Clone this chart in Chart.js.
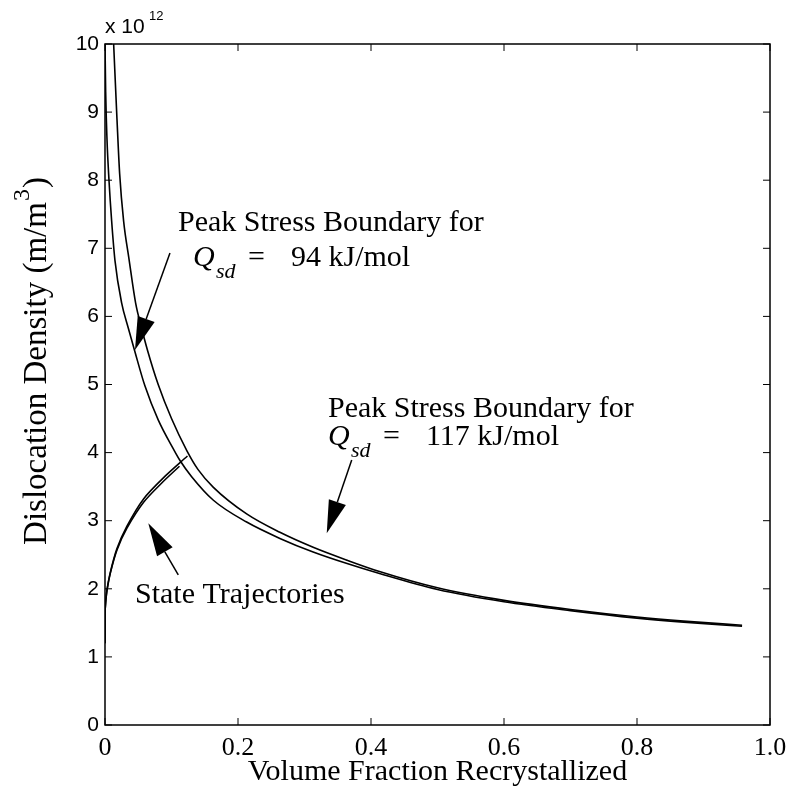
<!doctype html>
<html lang="en">
<head>
<meta charset="utf-8">
<title>Dislocation Density vs Volume Fraction Recrystallized</title>
<script src="https://cdn.jsdelivr.net/npm/chart.js@4.4.1/dist/chart.umd.min.js"></script>
<style>
  html, body { margin: 0; padding: 0; background: #fff; }
  #wrap { width: 786px; height: 796px; }
</style>
</head>
<body>
<div id="wrap"><canvas id="chart" width="786" height="796"></canvas></div>
<script>
// values in units of 1e12 m/m^3
var q117X = [0, 0.001, 0.003, 0.006, 0.01, 0.015, 0.025, 0.035, 0.045, 0.06, 0.08, 0.103, 0.113, 0.13, 0.163, 0.213, 0.263, 0.313, 0.364, 0.414, 0.5, 0.6, 0.7, 0.8, 0.87, 0.958];
var q117Y = [10, 9.3, 8.6, 8.0, 7.4, 6.82, 6.2, 5.83, 5.48, 4.98, 4.48, 4.05, 3.88, 3.65, 3.30, 2.98, 2.74, 2.54, 2.37, 2.22, 1.99, 1.81, 1.68, 1.57, 1.51, 1.45];

var q94X = [0.013, 0.018, 0.022, 0.028, 0.036, 0.046, 0.055, 0.064, 0.08, 0.1, 0.123, 0.14, 0.163, 0.213, 0.263, 0.313, 0.364, 0.414, 0.5, 0.6, 0.7, 0.8, 0.87, 0.958];
var q94Y = [10, 8.9, 8.1, 7.4, 6.85, 6.2, 5.83, 5.5, 5.0, 4.5, 4.03, 3.75, 3.49, 3.10, 2.83, 2.61, 2.42, 2.25, 2.015, 1.83, 1.695, 1.585, 1.525, 1.465];

var traj1X = [0, 0, 0.001, 0.003, 0.008, 0.018, 0.033, 0.058, 0.085, 0.112];
var traj1Y = [1.2, 1.64, 1.8, 1.98, 2.23, 2.57, 2.89, 3.27, 3.55, 3.80];

var traj2X = [0, 0, 0.001, 0.003, 0.008, 0.018, 0.033, 0.058, 0.09, 0.124];
var traj2Y = [1.2, 1.64, 1.8, 1.98, 2.24, 2.59, 2.92, 3.32, 3.65, 3.95];

var xTicks = [0, 0.2, 0.4, 0.6, 0.8, 1.0];
var yTicks = [0, 1, 2, 3, 4, 5, 6, 7, 8, 9, 10];

function pts(xs, ys) {
    return xs.map(function (x, i) { return { x: x, y: ys[i] }; });
}

var SERIF = '"Liberation Serif", "Times New Roman", serif';
var SANS = '"Liberation Sans", Arial, sans-serif';

function boundary(data) {
    return {
        data: data,
        showLine: true,
        borderColor: '#000',
        borderWidth: 1.6,
        pointRadius: 0,
        cubicInterpolationMode: 'monotone',
        fill: false
    };
}

function trajectory(data) {
    return {
        data: data,
        showLine: true,
        borderColor: '#000',
        borderWidth: 1.6,
        pointRadius: 0,
        tension: 0.3,
        fill: false
    };
}

// arrows and labels, placed in data coordinates
var arrows = [
    { from: [0.0977, 6.931], to: [0.0451, 5.507] },
    { from: [0.371, 3.891], to: [0.3334, 2.815] },
    { from: [0.1102, 2.203], to: [0.0651, 2.962] }
];

function drawQ(ctx, x, y, rest) {
    ctx.textBaseline = 'alphabetic';
    ctx.textAlign = 'left';
    ctx.font = 'italic 30px ' + SERIF;
    ctx.fillText('Q', x, y);
    ctx.font = 'italic 22px ' + SERIF;
    ctx.fillText('sd', x + 23, y + 12);
    ctx.font = '30px ' + SERIF;
    ctx.fillText('=', x + 55, y);
    ctx.fillText(rest, x + 98, y);
}

var decor = {
    id: 'decor',
    afterDatasetsDraw: function (chart) {
        var ctx = chart.ctx, a = chart.chartArea;
        var xs = chart.scales.x, ys = chart.scales.y;
        ctx.save();
        ctx.strokeStyle = '#000';
        ctx.fillStyle = '#000';

        // box
        ctx.lineWidth = 1.5;
        ctx.strokeRect(a.left, a.top, a.right - a.left, a.bottom - a.top);

        // inward ticks on all sides
        ctx.lineWidth = 1;
        ctx.beginPath();
        xTicks.forEach(function (v) {
            var px = xs.getPixelForValue(v);
            ctx.moveTo(px, a.bottom); ctx.lineTo(px, a.bottom - 7);
            ctx.moveTo(px, a.top); ctx.lineTo(px, a.top + 7);
        });
        yTicks.forEach(function (v) {
            var py = ys.getPixelForValue(v);
            ctx.moveTo(a.left, py); ctx.lineTo(a.left + 7, py);
            ctx.moveTo(a.right, py); ctx.lineTo(a.right - 7, py);
        });
        ctx.stroke();

        // arrows
        arrows.forEach(function (ar) {
            var x0 = xs.getPixelForValue(ar.from[0]), y0 = ys.getPixelForValue(ar.from[1]);
            var x1 = xs.getPixelForValue(ar.to[0]), y1 = ys.getPixelForValue(ar.to[1]);
            var ang = Math.atan2(y1 - y0, x1 - x0);
            var hl = 33, hw = 9;
            var bx = x1 - hl * Math.cos(ang), by = y1 - hl * Math.sin(ang);
            ctx.lineWidth = 1.5;
            ctx.beginPath();
            ctx.moveTo(x0, y0); ctx.lineTo(bx, by);
            ctx.stroke();
            ctx.beginPath();
            ctx.moveTo(x1, y1);
            ctx.lineTo(bx + hw * Math.sin(ang), by - hw * Math.cos(ang));
            ctx.lineTo(bx - hw * Math.sin(ang), by + hw * Math.cos(ang));
            ctx.closePath();
            ctx.fill();
        });

        // annotation text
        ctx.textBaseline = 'alphabetic';
        ctx.textAlign = 'left';
        ctx.font = '30px ' + SERIF;
        ctx.fillText('Peak Stress Boundary for', xs.getPixelForValue(0.1098), ys.getPixelForValue(7.254));
        drawQ(ctx, xs.getPixelForValue(0.1323), ys.getPixelForValue(6.74), '94 kJ/mol');
        ctx.font = '30px ' + SERIF;
        ctx.fillText('Peak Stress Boundary for', xs.getPixelForValue(0.3353), ys.getPixelForValue(4.523));
        drawQ(ctx, xs.getPixelForValue(0.3353), ys.getPixelForValue(4.112), '117 kJ/mol');
        ctx.font = '30px ' + SERIF;
        ctx.fillText('State Trajectories', xs.getPixelForValue(0.0451), ys.getPixelForValue(1.791));

        // exponent label
        ctx.font = '21px ' + SANS;
        ctx.fillText('x 10', a.left, a.top - 11);
        ctx.font = '13px ' + SANS;
        ctx.fillText('12', a.left + 44, a.top - 24);

        // y axis title with superscript
        ctx.translate(37, 362);
        ctx.rotate(-Math.PI / 2);
        var t1 = 'Dislocation Density (m/m', t2 = '3', t3 = ')';
        ctx.font = '33px ' + SERIF;
        var w1 = ctx.measureText(t1).width, w3 = ctx.measureText(t3).width;
        ctx.font = '24px ' + SERIF;
        var w2 = ctx.measureText(t2).width;
        var sx = -(w1 + w2 + w3) / 2;
        ctx.textBaseline = 'middle';
        ctx.font = '33px ' + SERIF;
        ctx.fillText(t1, sx, 0);
        ctx.font = '24px ' + SERIF;
        ctx.fillText(t2, sx + w1 + 1, -14);
        ctx.font = '33px ' + SERIF;
        ctx.fillText(t3, sx + w1 + w2 + 2, 0);
        ctx.restore();
    }
};

new Chart(document.getElementById('chart'), {
    type: 'scatter',
    data: {
        datasets: [
            boundary(pts(q117X, q117Y)),
            boundary(pts(q94X, q94Y)),
            trajectory(pts(traj1X, traj1Y)),
            trajectory(pts(traj2X, traj2Y))
        ]
    },
    options: {
        responsive: false,
        animation: false,
        layout: { padding: { top: 44, right: 16, left: 0, bottom: 0 } },
        plugins: { legend: { display: false }, tooltip: { enabled: false } },
        scales: {
            x: {
                type: 'linear', min: 0, max: 1,
                afterBuildTicks: function (s) { s.ticks = xTicks.map(function (v) { return { value: v }; }); },
                afterFit: function (s) { s.height = 71; s.paddingLeft = 0; s.paddingRight = 0; },
                grid: { display: false, drawTicks: false },
                border: { display: false },
                ticks: {
                    color: '#000', padding: 8,
                    font: { family: SERIF, size: 26 },
                    callback: function (v) { return v === 0 ? '0' : v.toFixed(1); }
                },
                title: {
                    display: true, text: 'Volume Fraction Recrystallized', color: '#000',
                    font: { family: SERIF, size: 30 }, padding: { top: 0, bottom: 6 }
                }
            },
            y: {
                type: 'linear', min: 0, max: 10,
                afterBuildTicks: function (s) { s.ticks = yTicks.map(function (v) { return { value: v }; }); },
                afterFit: function (s) { s.width = 105; s.paddingTop = 0; s.paddingBottom = 0; },
                grid: { display: false, drawTicks: false },
                border: { display: false },
                ticks: {
                    color: '#000', padding: 6,
                    font: { family: SANS, size: 21 },
                    callback: function (v) { return String(v); }
                }
            }
        }
    },
    plugins: [decor]
});
</script>
</body>
</html>
